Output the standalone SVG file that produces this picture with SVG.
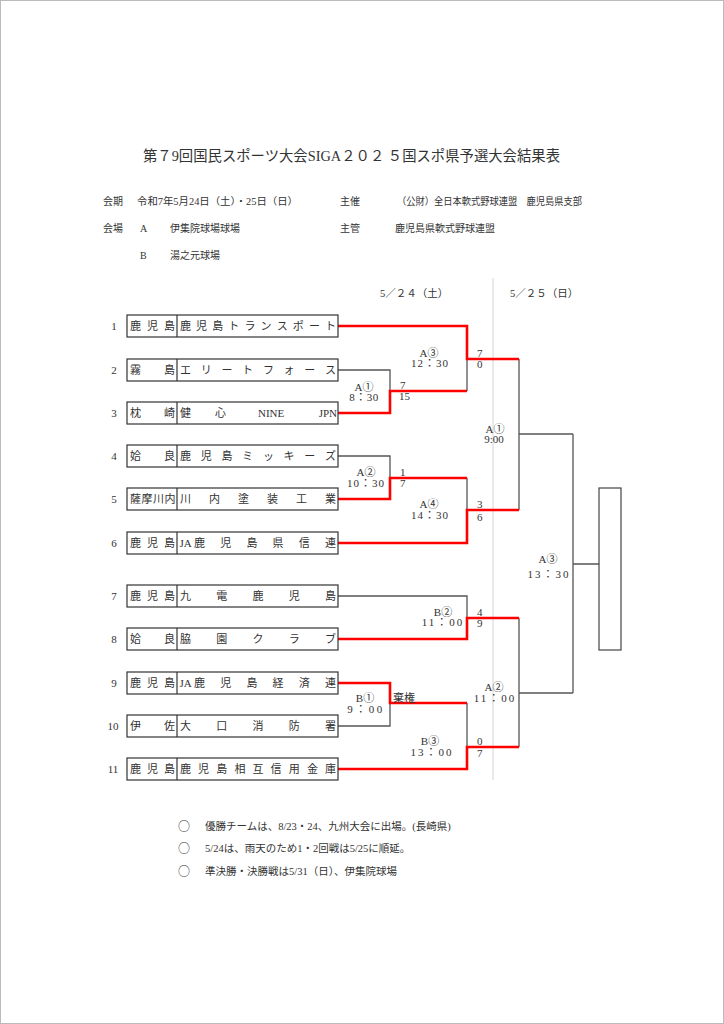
<svg xmlns="http://www.w3.org/2000/svg" width="724" height="1024" viewBox="0 0 724 1024">
<style>
text { font-family: "Liberation Serif", "Noto Sans CJK JP", serif; fill: #333; }
.t { font-size: 11px; }
.n { font-size: 11px; text-anchor: middle; }
.h { font-size: 10px; }
.s { font-size: 10.5px; }
.c { font-size: 12px; font-family: "Noto Sans CJK JP", sans-serif; }
.m { font-size: 11px; text-anchor: middle; }
.box { fill: #fff; stroke: #333; stroke-width: 1.2; }
.div { stroke: #333; stroke-width: 1.2; }
.g { fill: none; stroke: #555; stroke-width: 1.3; }
.r { fill: none; stroke: #ff0000; stroke-width: 2.6; }
</style>
<rect x="0.5" y="0.5" width="723" height="1023" fill="#fff" stroke="#bbb" stroke-width="1"/>

<g id="title">
<text x="143" y="161" style="font-size:14.5px" textLength="417" lengthAdjust="spacingAndGlyphs">第７9回国民スポーツ大会SIGA２０２ ５国スポ県予選大会結果表</text>
</g>

<g id="header" class="h">
<text class="h" x="103" y="204.5">会期</text>
<text class="h" x="137" y="204.5" textLength="161" lengthAdjust="spacingAndGlyphs">令和7年5月24日（土）・25日（日）</text>
<text class="h" x="340" y="204.5">主催</text>
<text class="h" x="397" y="204.5" textLength="185" lengthAdjust="spacingAndGlyphs">（公財）全日本軟式野球連盟　鹿児島県支部</text>
<text class="h" x="103" y="231.5">会場</text>
<text class="h" x="140" y="231.5">A</text>
<text class="h" x="170" y="231.5">伊集院球場球場</text>
<text class="h" x="340" y="231.5">主管</text>
<text class="h" x="395" y="231.5">鹿児島県軟式野球連盟</text>
<text class="h" x="140" y="258.5">B</text>
<text class="h" x="170" y="258.5">湯之元球場</text>
</g>

<g id="dates">
<line x1="493" y1="278" x2="493" y2="780" stroke="#d4d4d4" stroke-width="1"/>
<text class="s" x="380" y="297">5／２４（土）</text>
<text class="s" x="510" y="297">5／２５（日）</text>
</g>

<g id="connectors">
<path class="g" d="M338,370 H390 V391"/>
<path class="g" d="M467,359 V391"/>
<path class="g" d="M338,456 H390 V478"/>
<path class="g" d="M467,478 V510"/>
<path class="g" d="M519,359 V510 M519,434 H573"/>
<path class="g" d="M338,596 H467 V618"/>
<path class="g" d="M338,726 H390 V703"/>
<path class="g" d="M467,703 V747"/>
<path class="g" d="M519,618 V747 M519,693 H573"/>
<path class="g" d="M573,434 V693 M573,564 H599"/>
<path class="r" d="M338,326 H467 V359 H519"/>
<path class="r" d="M338,413 H390 V391 H467"/>
<path class="r" d="M338,499 H390 V478 H467"/>
<path class="r" d="M338,543 H467 V510 H519"/>
<path class="r" d="M338,639 H467 V618 H519"/>
<path class="r" d="M338,683 H390 V703 H467"/>
<path class="r" d="M338,769 H467 V747 H519"/>
</g>

<g id="final">
<rect x="599" y="488" width="22" height="162" fill="#fff" stroke="#444" stroke-width="1.2"/>
</g>

<g id="team1">
<text class="n" x="114" y="330">1</text>
<rect class="box" x="127" y="315" width="211" height="22"/><line class="div" x1="177" y1="315" x2="177" y2="337"/>
<text class="t" x="130 147 164" y="330">鹿児島</text>
<text class="t" x="180 196.1 212.2 228.3 244.4 260.6 276.7 292.8 308.9 325" y="330">鹿児島トランスポート</text>
</g>
<g id="team2">
<text class="n" x="114" y="374">2</text>
<rect class="box" x="127" y="359" width="211" height="22"/><line class="div" x1="177" y1="359" x2="177" y2="381"/>
<text class="t" x="130 164" y="374">霧島</text>
<text class="t" x="180 200.7 221.4 242.1 262.9 283.6 304.3 325" y="374">エリートフォース</text>
</g>
<g id="team3">
<text class="n" x="114" y="417">3</text>
<rect class="box" x="127" y="402" width="211" height="22"/><line class="div" x1="177" y1="402" x2="177" y2="424"/>
<text class="t" x="130 164" y="417">枕崎</text>
<text class="t" x="180" y="417">健</text>
<text class="t" x="215" y="417">心</text>
<text class="t" x="258" y="417">NINE</text>
<text class="t" x="337" y="417" text-anchor="end">JPN</text>
</g>
<g id="team4">
<text class="n" x="114" y="460">4</text>
<rect class="box" x="127" y="445" width="211" height="22"/><line class="div" x1="177" y1="445" x2="177" y2="467"/>
<text class="t" x="130 164" y="460">姶良</text>
<text class="t" x="180 200.7 221.4 242.1 262.9 283.6 304.3 325" y="460">鹿児島ミッキーズ</text>
</g>
<g id="team5">
<text class="n" x="114" y="503">5</text>
<rect class="box" x="127" y="488" width="211" height="22"/><line class="div" x1="177" y1="488" x2="177" y2="510"/>
<text class="t" x="130 141.5 153 164.5" y="503">薩摩川内</text>
<text class="t" x="180 209 238 267 296 325" y="503">川内塗装工業</text>
</g>
<g id="team6">
<text class="n" x="114" y="547">6</text>
<rect class="box" x="127" y="532" width="211" height="22"/><line class="div" x1="177" y1="532" x2="177" y2="554"/>
<text class="t" x="130 147 164" y="547">鹿児島</text>
<text class="t" x="179.5" y="547">JA</text>
<text class="t" x="194 220.2 246.4 272.6 298.8 325" y="547">鹿児島県信連</text>
</g>
<g id="team7">
<text class="n" x="114" y="600">7</text>
<rect class="box" x="127" y="585" width="211" height="22"/><line class="div" x1="177" y1="585" x2="177" y2="607"/>
<text class="t" x="130 147 164" y="600">鹿児島</text>
<text class="t" x="180 216.3 252.5 288.8 325" y="600">九電鹿児島</text>
</g>
<g id="team8">
<text class="n" x="114" y="643">8</text>
<rect class="box" x="127" y="628" width="211" height="22"/><line class="div" x1="177" y1="628" x2="177" y2="650"/>
<text class="t" x="130 164" y="643">姶良</text>
<text class="t" x="180 216.3 252.5 288.8 325" y="643">脇園クラブ</text>
</g>
<g id="team9">
<text class="n" x="114" y="687">9</text>
<rect class="box" x="127" y="672" width="211" height="22"/><line class="div" x1="177" y1="672" x2="177" y2="694"/>
<text class="t" x="130 147 164" y="687">鹿児島</text>
<text class="t" x="179.5" y="687">JA</text>
<text class="t" x="194 220.2 246.4 272.6 298.8 325" y="687">鹿児島経済連</text>
</g>
<g id="team10">
<text class="n" x="113" y="730">10</text>
<rect class="box" x="127" y="715" width="211" height="22"/><line class="div" x1="177" y1="715" x2="177" y2="737"/>
<text class="t" x="130 164" y="730">伊佐</text>
<text class="t" x="180 216.3 252.5 288.8 325" y="730">大口消防署</text>
</g>
<g id="team11">
<text class="n" x="113" y="773">11</text>
<rect class="box" x="127" y="758" width="211" height="22"/><line class="div" x1="177" y1="758" x2="177" y2="780"/>
<text class="t" x="130 147 164" y="773">鹿児島</text>
<text class="t" x="180 198.1 216.3 234.4 252.5 270.6 288.8 306.9 325" y="773">鹿児島相互信用金庫</text>
</g>

<g id="match-labels">
<text class="m" x="429" y="357">A③</text>
<text class="m" x="430" y="367" style="letter-spacing:1px">12：30</text>
<text class="t" x="477" y="357">7</text>
<text class="t" x="477" y="368">0</text>

<text class="m" x="364" y="391">A①</text>
<text class="m" x="364" y="401" style="letter-spacing:0.5px">8：30</text>
<text class="t" x="400" y="389">7</text>
<text class="t" x="399" y="400">15</text>

<text class="m" x="366" y="476">A②</text>
<text class="m" x="366" y="487" style="letter-spacing:1px">10：30</text>
<text class="t" x="400" y="476">1</text>
<text class="t" x="400" y="487">7</text>

<text class="m" x="429" y="508">A④</text>
<text class="m" x="430" y="519" style="letter-spacing:1px">14：30</text>
<text class="t" x="477" y="508">3</text>
<text class="t" x="477" y="521">6</text>

<text class="m" x="495" y="433">A①</text>
<text class="m" x="494" y="443">9:00</text>

<text class="m" x="443" y="616">B②</text>
<text class="m" x="443" y="626" style="letter-spacing:2px">11：00</text>
<text class="t" x="477" y="616">4</text>
<text class="t" x="477" y="627">9</text>

<text class="m" x="365" y="702">B①</text>
<text class="m" x="366" y="713" style="letter-spacing:2.5px">9：00</text>
<text class="t" x="393" y="702">棄権</text>

<text class="m" x="430" y="745">B③</text>
<text class="m" x="432" y="756" style="letter-spacing:2px">13：00</text>
<text class="t" x="477" y="745">0</text>
<text class="t" x="477" y="757">7</text>

<text class="m" x="494" y="691">A②</text>
<text class="m" x="495" y="702" style="letter-spacing:2px">11：00</text>

<text class="m" x="548" y="563">A③</text>
<text class="m" x="549" y="578" style="letter-spacing:2px">13：30</text>
</g>

<g id="notes">
<text class="c" x="178" y="830.5">○</text>
<text class="s" x="205" y="830">優勝チームは、8/23・24、九州大会に出場。(長崎県)</text>
<text class="c" x="178" y="852.5">○</text>
<text class="s" x="205" y="852">5/24は、雨天のため1・2回戦は5/25に順延。</text>
<text class="c" x="178" y="875.5">○</text>
<text class="s" x="205" y="875">準決勝・決勝戦は5/31（日）、伊集院球場</text>
</g>
</svg>
